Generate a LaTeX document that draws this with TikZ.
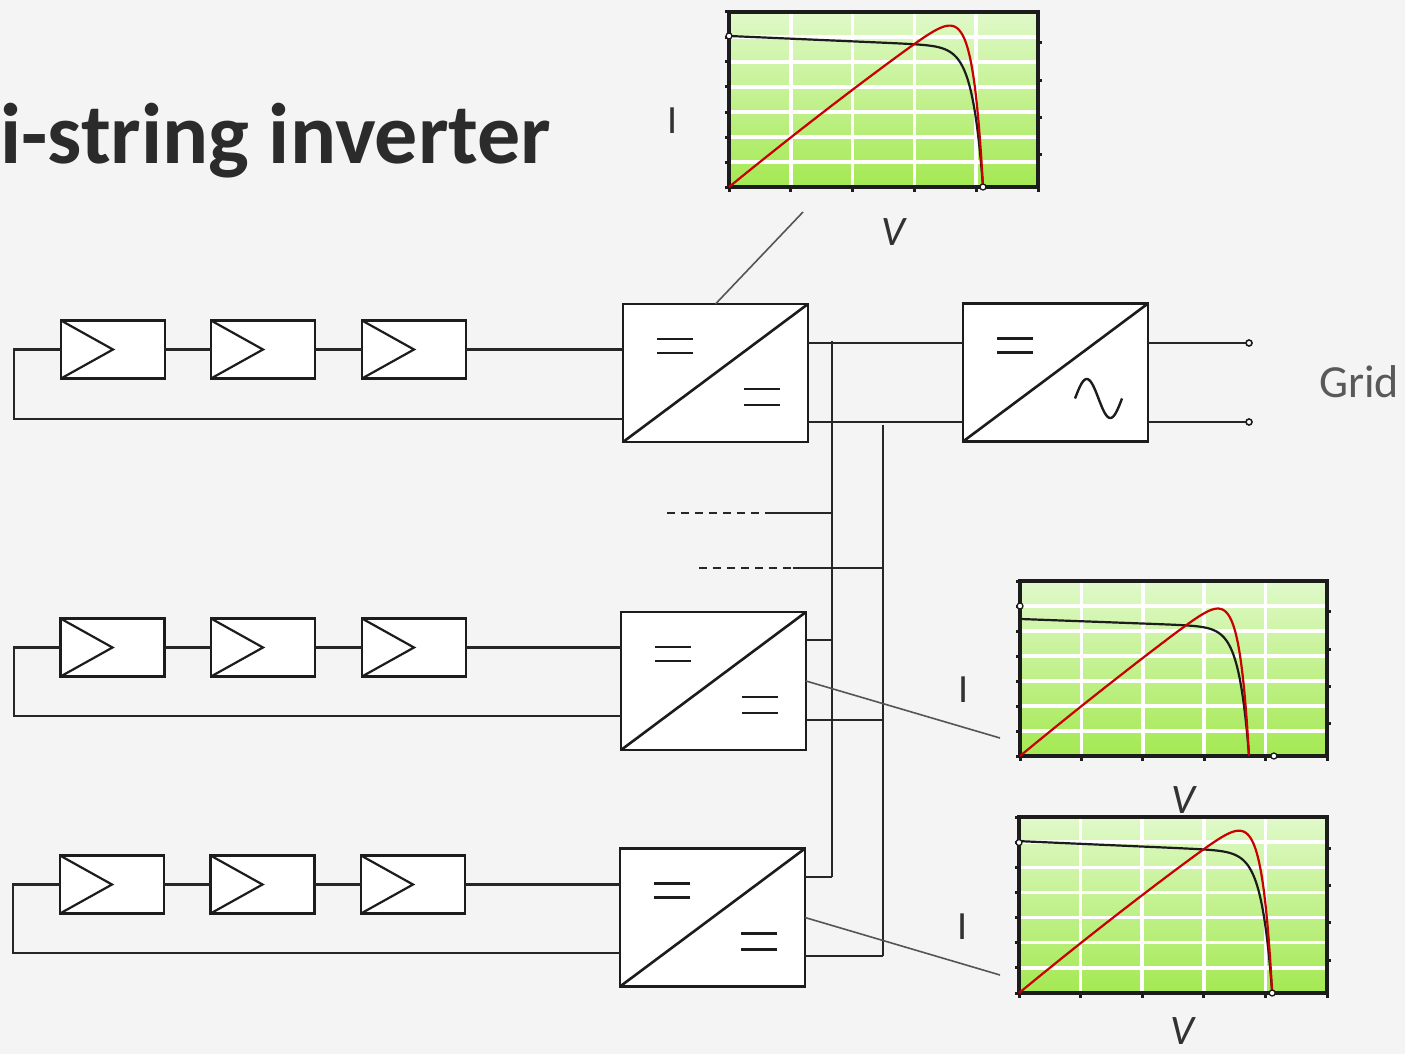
\documentclass[tikz,border=0pt]{standalone}
\usepackage{fontspec}
\setmainfont{Carlito}
\definecolor{bg}{RGB}{244,244,244}
\definecolor{ink}{RGB}{28,28,28}
\definecolor{wirec}{RGB}{38,38,38}
\definecolor{gtop}{RGB}{224,249,202}
\definecolor{gbot}{RGB}{164,233,82}
\definecolor{pvred}{RGB}{200,0,0}
\definecolor{titlec}{RGB}{43,43,43}
\definecolor{gridc}{RGB}{89,89,89}
\definecolor{linkc}{RGB}{85,85,85}
\definecolor{labc}{RGB}{50,50,50}
\newcommand\ivframe{%
  \shade[top color=gtop, bottom color=gbot] (0,0) rectangle (1,1);
  \foreach \u in {0.2,0.4,0.6,0.8} \draw[white, line width=3.5pt] (\u,0) -- (\u,1);
  \foreach \k in {1,...,6} \draw[white, line width=3.5pt] (0,\k/7) -- (1,\k/7);
  \draw[ink, line width=4pt] (0,0) rectangle (1,1);
  \foreach \k in {0,...,7} \draw[ink, line width=3pt] (0,\k/7) -- (-0.013,\k/7);
  \foreach \u in {0,0.2,0.4,0.6,0.8,1} \draw[ink, line width=3pt] (\u,0) -- (\u,-0.026);
  \foreach \v in {0.183,0.4,0.611,0.823} \draw[ink, line width=3pt] (1,\v) -- (1.013,\v);
}
\begin{document}
\begin{tikzpicture}[x=1pt,y=-1pt,
  declare function={ivA(\x)=0.863-0.077*\x-0.8*exp((\x-0.822)/0.0344);
                    ivB(\x)=0.783-0.065*\x-0.7345*exp((\x-0.746)/0.0332);},
  module/.style={draw=ink, line width=2.7pt, fill=white, minimum width=104pt, minimum height=58pt,
    inner sep=0pt, outer sep=0pt,
    path picture={\draw[ink, line width=2.2pt] (path picture bounding box.north west)
       -- ([xshift=52pt]path picture bounding box.west) -- (path picture bounding box.south west);}},
  conv/.style={draw=ink, line width=2.9pt, fill=white, minimum width=185pt, minimum height=138pt,
    inner sep=0pt, outer sep=0pt,
    path picture={\draw[ink, line width=2.6pt] (path picture bounding box.south west) -- (path picture bounding box.north east);
      \draw[ink, line width=2.6pt] ([xshift=34pt,yshift=-35pt]path picture bounding box.north west) -- ++(36pt,0pt)
        ([xshift=34pt,yshift=-49pt]path picture bounding box.north west) -- ++(36pt,0pt);}},
  eqline/.style={ink, line width=2.6pt},
  wire/.style={draw=wirec, line width=2.1pt},
  link/.style={draw=linkc, line width=1.6pt},
  lbl/.style={inner sep=0pt, text=labc, font=\fontsize{40}{44}\selectfont},
  lblv/.style={inner sep=0pt, text=labc, font=\fontsize{42}{46}\selectfont\itshape},
  term/.style={draw=ink, line width=1.6pt, fill=white}
]
\useasboundingbox (0,0) rectangle (1405,1054);
\fill[bg] (0,0) rectangle (1405,1054);

% title
\node[anchor=base west, inner sep=0pt, text=titlec, font=\fontsize{86}{92}\selectfont\bfseries] (title) at (0,163) {i-string inverter};

% modules
\node[module] (m11) at (113,349.5) {};
\node[module] (m12) at (263,349.5) {};
\node[module] (m13) at (414,349.5) {};
\node[module] (m21) at (112.5,647.5) {};
\node[module] (m22) at (263,647.5) {};
\node[module] (m23) at (414,647.5) {};
\node[module] (m31) at (112,884.5) {};
\node[module] (m32) at (262.5,884.5) {};
\node[module] (m33) at (413,884.5) {};

% converters
\node[conv] (c1) at (715.5,373) {};
\node[conv] (c2) at (713.5,681) {};
\node[conv] (c3) at (712.5,917.5) {};
\node[conv] (inv) at (1055.5,372.5) {};
\foreach \c in {c1,c2,c3}{
  \draw[eqline] ([xshift=121pt,yshift=-85pt]\c.north west) -- ++(36pt,0pt)
                ([xshift=121pt,yshift=-101pt]\c.north west) -- ++(36pt,0pt);
}
\draw[ink, line width=2.4pt, shift={(inv.north west)}] plot[domain=0:360, samples=60] ({112+\x/360*47},{95-19.5*sin(\x)});

% strings
\coordinate (l1) at (14,419);
\coordinate (l2) at (14,716);
\coordinate (l3) at (13,953);
\draw[wire] (m11.east) -- (m12.west) (m12.east) -- (m13.west) (m13.east) -- (m13.east -| c1.west);
\draw[wire] (m11.west) -| (l1) -- (l1 -| c1.west);
\draw[wire] (m21.east) -- (m22.west) (m22.east) -- (m23.west) (m23.east) -- (m23.east -| c2.west);
\draw[wire] (m21.west) -| (l2) -- (l2 -| c2.west);
\draw[wire] (m31.east) -- (m32.west) (m32.east) -- (m33.west) (m33.east) -- (m33.east -| c3.west);
\draw[wire] (m31.west) -| (l3) -- (l3 -| c3.west);

% DC bus
\coordinate (b1t) at (832,341); \coordinate (b1b) at (832,877);
\coordinate (b2t) at (883,425); \coordinate (b2b) at (883,956);
\draw[wire] ([yshift=30pt]c1.east) -- ([yshift=30pt]c1.east -| inv.west);
\draw[wire] ([yshift=-49pt]c1.east) -- ([yshift=-49pt]c1.east -| inv.west);
\draw[wire] (b1t) -- (b1b);
\draw[wire] (b2t) -- (b2b);
\draw[wire] ([yshift=41pt]c2.east) -- ([yshift=41pt]c2.east -| b1t);
\draw[wire] ([yshift=-39pt]c2.east) -- ([yshift=-39pt]c2.east -| b2t);
\draw[wire] ([yshift=40.5pt]c3.east) -- ([yshift=40.5pt]c3.east -| b1t);
\draw[wire] ([yshift=-38.5pt]c3.east) -- ([yshift=-38.5pt]c3.east -| b2t);

% further strings (dashed)
\coordinate (d1) at (667,513); \coordinate (d1m) at (768,513);
\coordinate (d2) at (699,568); \coordinate (d2m) at (793,568);
\draw[wire, dash pattern=on 8pt off 6pt] (d1) -- (d1m);
\draw[wire] (d1m) -- (d1m -| b1t);
\draw[wire, dash pattern=on 8pt off 6pt] (d2) -- (d2m);
\draw[wire] (d2m) -- (d2m -| b2t);

% grid outputs
\coordinate (g1) at (1249,343);
\coordinate (g2) at (1249,422);
\draw[wire] (inv.east |- g1) -- (g1);
\draw[wire] (inv.east |- g2) -- (g2);
\draw[term] (g1) circle[radius=3pt];
\draw[term] (g2) circle[radius=3pt];
\node[anchor=base west, inner sep=0pt, text=gridc, font=\fontsize{46}{50}\selectfont] (gridlbl) at (1319,397) {Grid};

% chart links
\coordinate (k1) at (803,212);
\coordinate (k2) at (1000,738);
\coordinate (k3) at (1000,975);
\draw[link] (c1.north) -- (k1);
\draw[link] (c2.east) -- (k2);
\draw[link] (c3.east) -- (k3);

% chart 1
\begin{scope}[shift={(729,187)}, x=309pt, y=175pt]
  \ivframe
  \draw[ink, line width=2.2pt, line join=round] plot[domain=0:0.82, samples=300] (\x,{ivA(\x)}) -- (0.822,0);
  \draw[pvred, line width=2.2pt, line join=round] plot[domain=0:0.82, samples=300] (\x,{1.67*\x*ivA(\x)}) -- (0.822,0);
  \draw[term, line width=1.3pt] (0,0.863) circle[radius=3pt] (0.822,0) circle[radius=3pt];
\end{scope}
% chart 2
\begin{scope}[shift={(1020,756)}, x=307pt, y=175pt]
  \ivframe
  \draw[ink, line width=2.2pt, line join=round] plot[domain=0:0.744, samples=300] (\x,{ivB(\x)}) -- (0.746,0);
  \draw[pvred, line width=2.2pt, line join=round] plot[domain=0:0.744, samples=300] (\x,{1.85*\x*ivB(\x)}) -- (0.746,0);
  \draw[term, line width=1.3pt] (0,0.857) circle[radius=3pt] (0.827,0) circle[radius=3pt];
\end{scope}
% chart 3
\begin{scope}[shift={(1019,993)}, x=308pt, y=176pt]
  \ivframe
  \draw[ink, line width=2.2pt, line join=round] plot[domain=0:0.82, samples=300] (\x,{ivA(\x)}) -- (0.822,0);
  \draw[pvred, line width=2.2pt, line join=round] plot[domain=0:0.82, samples=300] (\x,{1.67*\x*ivA(\x)}) -- (0.822,0);
  \draw[term, line width=1.3pt] (0,0.855) circle[radius=3pt] (0.822,0) circle[radius=3pt];
\end{scope}

% axis labels
\node[lbl] (i1) at (673,121) {I};
\node[lblv] (v1) at (893,232) {V};
\node[lbl] (i2) at (964,690) {I};
\node[lblv] (v2) at (1183,800) {V};
\node[lbl] (i3) at (963,927) {I};
\node[lblv] (v3) at (1182,1031) {V};
\end{tikzpicture}
\end{document}
